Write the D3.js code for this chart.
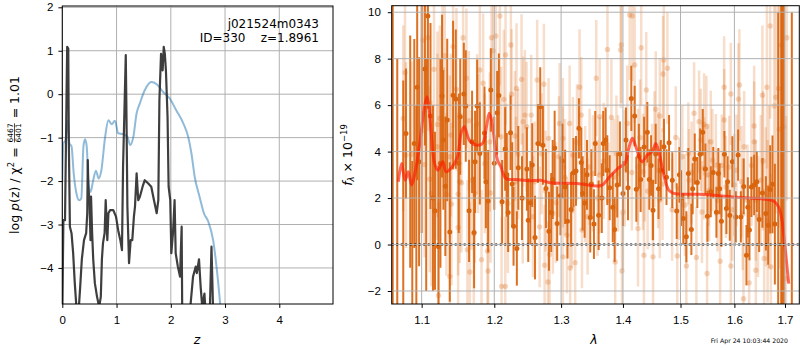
<!DOCTYPE html>
<html>
<head>
<meta charset="utf-8">
<script src="https://cdn.jsdelivr.net/npm/d3@7"></script>
<style>
body { margin: 0; background: #fff; }
svg { display: block; font-family: "DejaVu Sans", sans-serif; }
.tick text { font-size: 11.5px; fill: #000; }
.tick line, .domain { stroke: #000; }
</style>
</head>
<body>
<script>
// ---- left panel: log p(z) curves, [z, log p]
var pzDark = [
  [0,-5.2],[0.01,-4.0],[0.02,-2.9],[0.05,-2.9],[0.07,-0.9],[0.08,0.17],[0.09,1.09],[0.11,1.05],
  [0.12,-1.06],[0.14,-3.05],[0.17,-3.2],[0.20,-3.66],[0.23,-4.35],[0.26,-4.9],[0.29,-5.2],[0.33,-4.43],
  [0.36,-3.8],[0.40,-3.36],[0.44,-3.2],[0.46,-2.74],[0.47,-1.52],[0.48,-2.13],[0.50,-2.44],[0.52,-3.36],
  [0.53,-2.36],[0.55,-3.2],[0.57,-3.8],[0.60,-4.35],[0.64,-4.66],[0.68,-4.9],[0.71,-4.66],[0.73,-3.8],
  [0.75,-3.43],[0.78,-3.2],[0.80,-2.44],[0.83,-3.36],[0.85,-2.74],[0.88,-2.67],[0.94,-2.67],[0.99,-2.82],
  [1.03,-3.13],[1.07,-3.36],[1.10,-3.59],[1.12,-1.67],[1.15,-0.14],[1.17,0.9],[1.18,-0.14],[1.20,-2.59],
  [1.23,-3.89],[1.26,-3.36],[1.29,-3.36],[1.32,-2.82],[1.34,-2.59],[1.37,-1.82],[1.40,-2.44],[1.43,-2.36],
  [1.48,-2.13],[1.52,-1.98],[1.58,-2.05],[1.64,-2.13],[1.69,-2.44],[1.74,-2.74],[1.77,-2.44],[1.79,-0.14],
  [1.82,0.93],[1.85,0.55],[1.87,1.09],[1.89,0.93],[1.91,0.55],[1.94,-0.52],[1.96,-2.13],[1.99,-2.44],
  [2.01,-3.66],[2.04,-3.2],[2.07,-2.44],[2.09,-3.66],[2.13,-3.97],[2.17,-4.2],[2.20,-3.05],[2.21,-4.9],
  [2.28,-6],[2.36,-4.9],[2.41,-4.2],[2.46,-3.97],[2.48,-4.12],[2.52,-3.8],[2.55,-4.43],[2.58,-4.9],
  [2.62,-4.59],[2.64,-5.0],[2.72,-4.95],[2.75,-3.51],[2.78,-5.0],[2.85,-6]
];
var pzBlue = [
  [0,-1.98],[0.02,-1.13],[0.06,-1.06],[0.10,-0.6],[0.13,-1.13],[0.17,-1.2],[0.21,-1.82],[0.26,-2.28],
  [0.31,-2.44],[0.35,-2.4],[0.39,-1.2],[0.42,-1.04],[0.45,-1.2],[0.48,-1.98],[0.52,-2.25],[0.57,-1.98],
  [0.62,-1.76],[0.67,-1.94],[0.72,-1.75],[0.79,-0.98],[0.85,-0.6],[0.91,-0.69],[0.97,-0.61],[1.03,-0.9],
  [1.12,-0.92],[1.20,-0.98],[1.25,-1.17],[1.31,-0.98],[1.37,-0.44],[1.43,-0.21],[1.52,0.09],[1.64,0.28],
  [1.74,0.23],[1.86,0.05],[1.98,-0.1],[2.10,-0.37],[2.23,-0.67],[2.32,-0.98],[2.38,-1.36],[2.44,-1.9],
  [2.53,-2.36],[2.61,-2.74],[2.69,-2.93],[2.78,-3.36],[2.85,-4.05],[2.91,-4.83],[2.96,-5.6]
];
var zTicks = [0, 1, 2, 3, 4];
var pzTicks = [-4, -3, -2, -1, 0, 1, 2];

// ---- right panel: spectrum, rows [lambda, flux, err]
var specDark = [
  [1.0625,4,15],[1.0683,2.5,5.5],[1.0760,-1.44,8.5],[1.0795,4.78,2.8],[1.0877,-1.8,5.4],[1.0903,4.35,4.5],
  [1.0941,6.77,4],[1.0966,3.56,4.5],[1.1043,7.56,3.3],[1.1082,9.84,4],[1.1117,5.53,4],[1.1177,1.45,3.4],
  [1.1224,-0.1,3.5],[1.1272,6.39,3.5],[1.1316,2.51,3],[1.1342,5.36,3.5],[1.1377,0.54,3],[1.1422,6.43,3.2],
  [1.1459,6.26,3],[1.1570,6.48,2.2],[1.1597,5.96,2.4],[1.1643,1.45,2.2],[1.1685,4.42,2.2],[1.1713,0.52,2.4],
  [1.1727,3.56,2.2],[1.1756,5.96,2],[1.1794,3.92,2.2],[1.1912,1.87,2.2],[1.1950,6.65,1.8],[1.2041,5.67,1.8],
  [1.2066,6.42,1.8],[1.2113,1.84,1.8],[1.2157,4.11,1.8],[1.2201,1.38,1.7],[1.2236,4.81,1.6],[1.2280,0.79,1.7],
  [1.2329,-0.17,1.6],[1.2478,3.25,1.8],[1.2498,1.05,1.8],[1.2558,3.42,1.8],[1.2644,4.35,1.7],[1.2679,5.93,1.7],
  [1.2720,4.27,1.7],[1.2766,2.41,1.7],[1.2812,0.57,1.7],[1.2847,1.38,1.7],[1.2900,4.16,1.6],[1.2939,0.9,1.6],
  [1.3063,2.48,1.6],[1.3156,1.51,1.6],[1.3194,3.09,1.5],[1.3234,3.17,1.5],[1.3281,5.0,1.3],[1.3318,3.53,1.5],
  [1.3372,1.79,1.5],[1.3462,1.16,1.5],[1.3522,0.88,1.5],[1.3543,4.35,1.4],[1.3598,1.26,1.5],[1.3673,4.35,1.4],
  [1.3713,4.5,1.4],[1.3779,2.44,1.4],[1.3861,0.65,1.4],[1.3904,2.56,1.4],[1.4085,2.44,1.4],[1.4141,6.29,1.4],
  [1.4198,5.53,1.3],[1.4226,2.38,1.4],[1.4415,4.83,1.3],[1.4514,1.48,1.3],[1.4706,4.21,1.2],[1.4795,4.38,1.2],
  [1.4853,2.77,1.2],[1.4932,1.44,1.2],[1.5050,1.12,1.1],[1.5105,0.33,1.1],[1.5141,3.06,1.1],[1.5196,0.65,1.1],
  [1.5258,3.68,1.1],[1.5305,2.67,1.1],[1.5356,3.89,1.1],[1.5405,4.83,1.0],[1.5454,3.25,1.1],[1.5491,1.22,1.1],
  [1.5554,2.27,1.1],[1.5659,1.39,1.1],[1.5696,3.06,1.1],[1.5753,1.0,1.1],[1.5810,3.89,1.0],[1.5848,1.55,1.1],
  [1.5912,1.26,1.1],[1.5961,3.56,1.1],[1.6027,1.19,1.1],[1.6072,3.85,1.1],[1.6124,1.19,1.1],[1.6233,-0.46,1.3],
  [1.6291,0.62,1.3],[1.6330,2.48,1.3],[1.6383,2.56,1.3],[1.6436,2.7,1.3],[1.6482,1.08,1.4],[1.6547,2.22,1.5],
  [1.6615,1.34,1.6],[1.6661,0.83,1.7],[1.6701,2.37,1.9],[1.6747,2.59,2.1],[1.6795,0.88,2.6],[1.6862,3,7],
  [1.6923,2,9],[1.6940,3,9],[1.6975,4,9],[1.7140,3.5,6.5],
  // bars whose markers sit among the others
  [1.0850,4.0,5],[1.0930,1.0,5],[1.1000,5.5,5],[1.1060,3.0,5],[1.1150,2.0,4],[1.1250,3.5,4.5],
  [1.1290,4.5,3],[1.1500,3.5,3],[1.1520,5.5,2.5],[1.1860,4.8,2],[1.1880,2.7,2],[1.2000,3.5,2],
  [1.2180,3.0,1.8],[1.2260,2.6,1.8],[1.2350,3.3,1.8],[1.2405,2.0,1.8],[1.2530,1.8,1.8],[1.2600,0.3,1.8],
  [1.2870,2.8,1.7],[1.2990,2.1,1.7],[1.3020,3.6,1.6],[1.3100,1.0,1.6],[1.3340,2.2,1.6],[1.3410,3.0,1.5],
  [1.3480,2.6,1.5],[1.3650,2.0,1.5],[1.3740,3.2,1.5],[1.3830,1.6,1.5],[1.3950,3.9,1.4],[1.4000,2.2,1.4],
  [1.4050,4.5,1.4],[1.4270,3.8,1.4],[1.4300,2.8,1.4],[1.4360,4.2,1.3],[1.4450,2.8,1.3],[1.4480,3.4,1.3],
  [1.4560,3.9,1.3],[1.4610,2.4,1.3],[1.4650,3.2,1.3],[1.4750,2.9,1.2],[1.4980,3.0,1.2],[1.5010,2.0,1.2],
  [1.5220,2.4,1.1],[1.5600,3.1,1.1],[1.5720,2.4,1.1],[1.5870,2.7,1.1],[1.6180,2.5,1.2],[1.6260,1.6,1.3]
];
var specFaint = [
  [1.0783,7.4,4],[1.0760,5.43,4],[1.0868,3.88,4],[1.1017,8.8,4],[1.1082,8.9,4],[1.1039,3.45,4],
  [1.1107,2.81,4],[1.1129,2.2,4],[1.1164,7.54,4],[1.1209,5.17,4],[1.1241,5.43,4],[1.1277,7.54,4],
  [1.1308,8.13,3.5],[1.1331,2.16,3.5],[1.1390,4.71,3.5],[1.1400,1.74,3.5],[1.1422,8.52,3.5],[1.1468,6.68,3.5],
  [1.1491,0.73,3.5],[1.1537,2.66,3],[1.1560,8.9,3],[1.1606,7.16,3],[1.1639,5.33,3],[1.1653,-1.18,3],
  [1.1709,0.47,3],[1.1723,2.2,3],[1.1756,5.19,3],[1.1794,7.51,3],[1.1818,-0.65,3],[1.1841,6.94,3],
  [1.1865,3.49,3],[1.1903,-0.28,3],[1.1912,-1.14,3],[1.1946,2.22,3],[1.1960,8.9,3],[1.1983,8.34,3],
  [1.2022,8.98,3],[1.2080,9.84,3],[1.2095,4.64,3],[1.2138,6.25,3],[1.2163,8.16,3],[1.2197,1.77,3],
  [1.2241,8.59,2.8],[1.2251,6.47,2.8],[1.2299,4.67,2.8],[1.2324,6.72,2.8],[1.2348,3.89,2.8],[1.2398,7.11,2.8],
  [1.2422,5.29,2.8],[1.2448,5.57,2.8],[1.2473,5.07,2.8],[1.2159,-1.8,3],[1.2105,-1.8,3],[1.1377,-1.37,3.5],
  [1.1224,-2.19,4],[1.1491,2.17,3.5],[1.1619,-0.22,3],[1.2543,5.57,2.6],[1.2633,7.08,2.6],[1.2735,6.9,2.6],
  [1.2806,4.57,2.6],[1.2977,5.21,2.6],[1.3028,4.57,2.6],[1.3133,5.21,2.5],[1.3142,-1.01,2.5],[1.3185,3.85,2.5],
  [1.3221,-0.78,2.5],[1.3291,6.77,2.5],[1.3318,5.57,2.5],[1.3329,0.62,2.5],[1.3559,7.16,2.5],[1.3615,5.5,2.5],
  [1.3743,8.4,2.5],[1.3808,5.47,2.5],[1.3871,-0.75,2.5],[1.3891,3.92,2.5],[1.3962,8.37,2.5],[1.3972,8.59,2.5],
  [1.3983,-1.14,2.5],[1.4073,5.21,2.5],[1.4113,9.88,2.8],[1.4158,9.84,2.8],[1.4198,7.73,2.5],[1.4310,8.47,2.5],
  [1.4340,3.13,2.5],[1.4397,6.65,2.5],[1.4497,2.7,2.5],[1.4514,-0.53,2.5],[1.4561,5.82,2.5],[1.4631,5.53,2.5],
  [1.4689,7.34,2.5],[1.4702,7.94,2.5],[1.4254,0.69,2.5],[1.4357,-0.46,2.5],[1.2822,-0.43,2.6],[1.2873,1.34,2.6],
  [1.2670,0.76,2.6],[1.2746,-0.89,2.6],[1.2796,-1.61,2.6],[1.3028,-0.53,2.6],[1.3091,0.4,2.5],[1.4766,7.59,2.4],
  [1.4914,4.61,2.2],[1.4942,-0.49,2.2],[1.5105,-0.92,2.2],[1.5141,3.92,2.2],[1.5246,5.65,2.2],[1.5288,-0.56,2.2],
  [1.5337,5.29,2.2],[1.5430,5.17,2.2],[1.5472,5.07,2.2],[1.5485,-1.25,2.2],[1.5554,4.42,2.2],[1.5729,-0.72,2.2],
  [1.5805,6.77,2.2],[1.5806,5.36,2.2],[1.5932,6.48,2.2],[1.5933,-0.92,2.2],[1.6077,6.26,2.4],[1.6096,6.87,2.4],
  [1.6188,4.21,2.4],[1.6175,-2.33,2.4],[1.6285,-1.65,2.6],[1.6383,5.1,2.6],[1.6384,4.42,2.6],[1.6416,-1.11,2.6],
  [1.6547,6.43,3],[1.6581,-0.6,3],[1.6635,6.77,3.5],[1.6701,9.41,4],[1.6715,-0.96,4],[1.6781,5.96,5],
  [1.6815,6.34,5],[1.6868,6.72,6],[1.6882,4.96,6],[1.6929,8.59,7],[1.6969,5.07,7],[1.7038,8.9,7],
  [1.7018,-1.47,7],
  [1.2594,2.7,2.6],[1.2966,3.78,2.6],[1.3028,3.34,2.6],[1.3452,3.34,2.5],[1.3505,3.06,2.5],[1.3615,2.99,2.5],
  [1.3918,3.06,2.5],[1.4031,3.28,2.5],[1.4254,3.34,2.5],[1.4369,3.49,2.5],[1.4603,3.2,2.5],[1.4631,1.91,2.5],
  [1.5032,3.78,2.2],[1.5153,2.77,2.2],[1.5368,4.5,2.2],[1.5430,3.28,2.2],[1.5523,2.34,2.2],[1.5585,3.63,2.2],
  [1.5648,3.42,2.2],[1.5837,2.48,2.2],[1.5900,3.34,2.2],[1.5996,2.56,2.2],[1.6137,2.7,2.4],[1.6253,1.91,2.4],
  [1.6416,1.91,2.6],[1.6514,2.77,2.8],[1.6613,2.05,3],[1.6679,2.48,3.5],
  [1.0795,3.85,4],[1.1209,4.21,4],[1.1377,3.78,3.5],[1.1514,2.7,3.5],[1.1677,2.77,3],[1.1770,4.35,3],
  [1.1936,4.42,3],[1.2169,3.06,3],[1.2317,2.7,2.8],[1.2416,1.98,2.8],
  [1.2570,1.2,2.6],[1.2700,3.9,2.6],[1.2760,2.3,2.6],[1.2920,1.8,2.6],[1.3060,2.9,2.5],[1.3170,1.5,2.5],
  [1.3250,4.4,2.5],[1.3380,2.6,2.5],[1.3420,1.2,2.5],[1.3580,2.0,2.5],[1.3680,3.6,2.5],[1.3760,1.9,2.5],
  [1.3850,2.9,2.5],[1.4000,1.4,2.5],[1.4150,3.1,2.5],[1.4290,4.6,2.5],[1.4420,2.3,2.5],[1.4540,4.1,2.5],
  [1.4680,2.6,2.4],[1.4850,1.5,2.2],[1.4980,2.4,2.2],[1.5080,1.7,2.2],[1.5200,3.1,2.2],[1.5390,1.4,2.2],
  [1.5510,3.0,2.2],[1.5680,1.9,2.2],[1.5760,3.4,2.2],[1.5960,1.5,2.2],[1.6040,3.2,2.4],[1.6160,1.3,2.4],
  [1.6330,3.4,2.6],[1.6460,1.2,2.6],[1.6560,3.6,3],[1.6650,1.0,3.5]
];
var modelSpec = [
  [1.0696,2.7],[1.0740,3.49],[1.0783,2.77],[1.0825,3.13],[1.0868,2.56],[1.0911,3.06],[1.0975,4.35],
  [1.1031,5.79],[1.1070,6.36],[1.1096,5.93],[1.1127,4.78],[1.1171,3.49],[1.1215,3.2],[1.1282,3.56],
  [1.1327,3.13],[1.1394,3.28],[1.1484,3.78],[1.1531,4.78],[1.1576,5.07],[1.1645,4.5],[1.1739,4.28],
  [1.1832,4.35],[1.1889,5.07],[1.1927,5.65],[1.1960,5.36],[1.2013,4.21],[1.2047,3.63],[1.2096,3.34],
  [1.2169,2.84],[1.2317,2.8],[1.2517,2.74],[1.2679,2.77],[1.2833,2.66],[1.3256,2.63],[1.3637,2.54],
  [1.3777,2.91],[1.3918,3.28],[1.4033,3.49],[1.4090,4.06],[1.4160,4.57],[1.4218,4.21],[1.4323,3.56],
  [1.4412,3.85],[1.4501,3.99],[1.4561,4.35],[1.4621,3.92],[1.4711,2.91],[1.4790,2.34],[1.4880,2.2],
  [1.5340,2.16],[1.5975,2.05],[1.6634,1.94],[1.6769,1.87],[1.6871,1.62],[1.6939,1.05],[1.6986,0.19],
  [1.7042,-0.97],[1.7077,-1.68]
];
var waveTicks = [1.1, 1.2, 1.3, 1.4, 1.5, 1.6, 1.7];
var fluxTicks = [-2, 0, 2, 4, 6, 8, 10];

var W = 800, H = 350;
var orange = "#d9650f";

var svg = d3.select("body").append("svg").attr("width", W).attr("height", H);

// ---------------- left panel
var L = {left: 62.3, right: 333, top: 6, bottom: 304};
var x1 = d3.scaleLinear().domain([0, 4.99]).range([L.left, L.right]);
var y1 = d3.scaleLinear().domain([-4.83, 2.03]).range([L.bottom, L.top]);

svg.append("clipPath").attr("id", "clipL").append("rect")
    .attr("x", L.left).attr("y", L.top).attr("width", L.right - L.left).attr("height", L.bottom - L.top);

var gridL = svg.append("g").attr("stroke", "#b0b0b0").attr("stroke-width", 1);
gridL.selectAll(".gx").data(zTicks).enter().append("line")
    .attr("x1", x1).attr("x2", x1).attr("y1", L.top).attr("y2", L.bottom);
gridL.selectAll(".gy").data(pzTicks).enter().append("line")
    .attr("y1", y1).attr("y2", y1).attr("x1", L.left).attr("x2", L.right);

var gl = svg.append("g").attr("clip-path", "url(#clipL)");
gl.append("path").datum(pzBlue)
    .attr("d", d3.line().x(function(d) { return x1(d[0]); }).y(function(d) { return y1(d[1]); }).curve(d3.curveMonotoneX))
    .attr("fill", "none").attr("stroke", "#1f77b4").attr("stroke-opacity", 0.5).attr("stroke-width", 2);
gl.append("path").datum(pzDark)
    .attr("d", d3.line().x(function(d) { return x1(d[0]); }).y(function(d) { return y1(d[1]); }))
    .attr("fill", "none").attr("stroke", "#2e2e2e").attr("stroke-opacity", 0.92).attr("stroke-width", 2.2)
    .attr("stroke-linejoin", "round");

svg.append("g").attr("transform", "translate(0," + L.bottom + ")")
    .call(d3.axisBottom(x1).tickValues(zTicks).tickSize(3.9).tickPadding(8).tickFormat(d3.format("d")))
    .call(function(g) { g.select(".domain").remove(); });
svg.append("g").attr("transform", "translate(" + L.left + ",0)")
    .call(d3.axisLeft(y1).tickValues(pzTicks).tickSize(3.9).tickPadding(5).tickFormat(d3.format("d")))
    .call(function(g) { g.select(".domain").remove(); });
svg.append("rect").attr("x", L.left).attr("y", L.top).attr("width", L.right - L.left).attr("height", L.bottom - L.top)
    .attr("fill", "none").attr("stroke", "#000").attr("stroke-width", 1);

svg.append("text").attr("x", 319).attr("y", 27.5).attr("text-anchor", "end").attr("font-size", 12)
    .text("j021524m0343");
svg.append("text").attr("x", 319).attr("y", 42).attr("text-anchor", "end").attr("font-size", 12)
    .text("ID=330\u00a0\u00a0\u00a0\u00a0z=1.8961");

svg.append("text").attr("x", 197).attr("y", 344).attr("text-anchor", "middle")
    .attr("font-size", 12.5).style("font-style", "italic").text("z");

// rotated label built piece by piece
function seqText(g, pieces) {
  var x = 0;
  pieces.forEach(function(p) {
    if (p.frac) {
      var n = g.append("text").attr("font-size", p.size).text(p.frac[0]);
      var d = g.append("text").attr("font-size", p.size).text(p.frac[1]);
      var w = Math.max(n.node().getComputedTextLength(), d.node().getComputedTextLength());
      n.attr("x", x + 1 + w / 2).attr("y", -5.2).attr("text-anchor", "middle");
      d.attr("x", x + 1 + w / 2).attr("y", 2.6).attr("text-anchor", "middle");
      g.append("line").attr("x1", x + 1).attr("x2", x + 1 + w).attr("y1", -4).attr("y2", -4)
          .attr("stroke", "#000").attr("stroke-width", 0.7);
      x += w + 2;
    } else {
      var t = g.append("text").attr("x", x).attr("y", p.dy || 0).attr("font-size", p.size || 12.5)
          .style("font-style", p.italic ? "italic" : null).text(p.t);
      x += t.node().getComputedTextLength();
    }
  });
  return x;
}

var labL = svg.append("g").attr("transform", "translate(18.5,155) rotate(-90)");
var labLi = labL.append("g");
var wl = seqText(labLi, [
  {t: "log\u00a0"}, {t: "p", italic: true}, {t: "(z)\u00a0/\u00a0\u03c7"}, {t: "2", size: 8.5, dy: -5},
  {t: "\u00a0=\u00a0"}, {frac: ["6467", "6401"], size: 7.5}, {t: "\u00a0=\u00a01.01"}
]);
labLi.attr("transform", "translate(" + (-wl / 2) + ",0)");

// ---------------- right panel
var R = {left: 391.7, right: 799.3, top: 5.7, bottom: 304};
var x2 = d3.scaleLog().domain([1.0612, 1.7294]).range([R.left, R.right]);
var y2 = d3.scaleLinear().domain([-2.56, 10.28]).range([R.bottom, R.top]);

svg.append("clipPath").attr("id", "clipR").append("rect")
    .attr("x", R.left).attr("y", R.top).attr("width", R.right - R.left).attr("height", R.bottom - R.top);

var gr = svg.append("g").attr("clip-path", "url(#clipR)");

gr.append("g").selectAll("line").data(specFaint).enter().append("line")
    .attr("x1", function(d) { return x2(d[0]); }).attr("x2", function(d) { return x2(d[0]); })
    .attr("y1", function(d) { return y2(d[1] - d[2]); }).attr("y2", function(d) { return y2(d[1] + d[2]); })
    .attr("stroke", orange).attr("stroke-opacity", 0.22).attr("stroke-width", 2.5);
gr.append("g").selectAll("circle").data(specFaint).enter().append("circle")
    .attr("cx", function(d) { return x2(d[0]); }).attr("cy", function(d) { return y2(d[1]); })
    .attr("r", 2.7).attr("fill", orange).attr("fill-opacity", 0.26);

gr.append("g").selectAll("line").data(specDark).enter().append("line")
    .attr("x1", function(d) { return x2(d[0]); }).attr("x2", function(d) { return x2(d[0]); })
    .attr("y1", function(d) { return y2(d[1] - d[2]); }).attr("y2", function(d) { return y2(d[1] + d[2]); })
    .attr("stroke", orange).attr("stroke-opacity", 0.92).attr("stroke-width", 2);
gr.append("g").selectAll("circle").data(specDark.filter(function(d) { return d[2] < 5; }))
    .enter().append("circle")
    .attr("cx", function(d) { return x2(d[0]); }).attr("cy", function(d) { return y2(d[1]); })
    .attr("r", 2.5).attr("fill", orange);

var gridR = svg.append("g").attr("stroke", "#b0b0b0").attr("stroke-width", 1);
gridR.selectAll(".gx").data(waveTicks).enter().append("line")
    .attr("x1", x2).attr("x2", x2).attr("y1", R.top).attr("y2", R.bottom);
gridR.selectAll(".gy").data(fluxTicks).enter().append("line")
    .attr("y1", y2).attr("y2", y2).attr("x1", R.left).attr("x2", R.right);

gr.append("path").datum(modelSpec)
    .attr("d", d3.line().x(function(d) { return x2(d[0]); }).y(function(d) { return y2(d[1]); }).curve(d3.curveCatmullRom.alpha(0.5)))
    .attr("fill", "none").attr("stroke", "#ff1a00").attr("stroke-opacity", 0.65).attr("stroke-width", 3)
    .attr("stroke-linejoin", "round");

gr.append("line").attr("x1", R.left).attr("x2", R.right).attr("y1", y2(0)).attr("y2", y2(0))
    .attr("stroke", "#000").attr("stroke-width", 2).attr("stroke-dasharray", "2,2.5");

svg.append("g").attr("transform", "translate(0," + R.bottom + ")")
    .call(d3.axisBottom(x2).tickValues(waveTicks).tickSize(3.9).tickPadding(8).tickFormat(d3.format(".1f")))
    .call(function(g) { g.select(".domain").remove(); });
svg.append("g").attr("transform", "translate(" + R.left + ",0)")
    .call(d3.axisLeft(y2).tickValues(fluxTicks).tickSize(3.9).tickPadding(7).tickFormat(d3.format("d")))
    .call(function(g) { g.select(".domain").remove(); });
svg.append("rect").attr("x", R.left).attr("y", R.top).attr("width", R.right - R.left).attr("height", R.bottom - R.top)
    .attr("fill", "none").attr("stroke", "#000").attr("stroke-width", 1);

svg.append("text").attr("x", 594).attr("y", 344).attr("text-anchor", "middle")
    .attr("font-size", 12.5).style("font-style", "italic").text("\u03bb");

var labR = svg.append("g").attr("transform", "translate(351.5,155) rotate(-90)");
var labRi = labR.append("g");
var wr = seqText(labRi, [
  {t: "f", italic: true}, {t: "\u03bb", size: 8.5, dy: 2.5, italic: true}, {t: "\u00a0\u00d7\u00a010"},
  {t: "\u221219", size: 8.5, dy: -5}
]);
labRi.attr("transform", "translate(" + (-wr / 2) + ",0)");

svg.append("text").attr("x", 788).attr("y", 343).attr("text-anchor", "end").attr("font-size", 6.2)
    .text("Fri Apr 24 10:03:44 2020");
</script>
</body>
</html>
